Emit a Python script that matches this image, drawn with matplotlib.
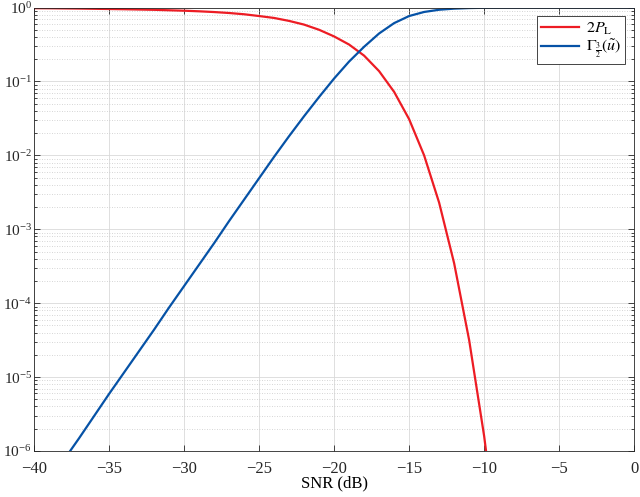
import numpy as np
import matplotlib
matplotlib.use("Agg")
import matplotlib.pyplot as plt
from matplotlib.ticker import LogLocator, MultipleLocator, NullFormatter

plt.rcParams['font.family'] = ['Liberation Serif', 'DejaVu Serif']
plt.rcParams['mathtext.fontset'] = 'stix'

# SNR (dB) grid
snr = [-40, -39, -38, -37, -36, -35, -34, -33, -32, -31, -30, -29, -28, -27,
       -26, -25, -24, -23, -22, -21, -20, -19, -18, -17, -16, -15, -14, -13,
       -12, -11, -10, -9, -8, -7, -6, -5, -4, -3, -2, -1, 0]

# log10 of 2 P_L (red)
log_pl = [-0.008, -0.009, -0.011, -0.013, -0.016, -0.019, -0.022, -0.026, -0.030,
          -0.036, -0.042, -0.050, -0.060, -0.073, -0.090, -0.114, -0.140, -0.180,
          -0.230, -0.300, -0.390, -0.500, -0.650, -0.860, -1.140, -1.510, -2.000,
          -2.640, -3.460, -4.500, -5.800, -7.400, -9.0, -11.0, -13.0, -15.0,
          -17.0, -19.0, -21.0, -23.0, -25.0]

# log10 of Gamma_{3/2}(u~) (blue)
log_gamma = [-6.70, -6.41, -6.12, -5.83, -5.53, -5.23, -4.94, -4.65, -4.36, -4.06,
             -3.77, -3.48, -3.19, -2.89, -2.60, -2.31, -2.02, -1.74, -1.47, -1.21,
             -0.96, -0.73, -0.53, -0.35, -0.21, -0.114, -0.059, -0.029, -0.014,
             -0.006, -0.0025, -0.001, -0.0005, -0.0003, -0.0002, -0.0001, -0.0001,
             -0.0001, 0.0, 0.0, 0.0]

red = '#ed1c24'
blue = '#0652a6'

fig = plt.figure(figsize=(6.4, 4.97), dpi=100)
ax = fig.add_axes([0.053, 0.0926, 0.938, 0.8921])

ax.semilogy(snr, np.power(10.0, log_pl), color=red, lw=1.6, label=r'$2P_{\rm L}$')
ax.semilogy(snr, np.power(10.0, log_gamma), color=blue, lw=1.6,
            label=r'$\Gamma_{\frac{3}{2}}(\tilde{u})$')

ax.set_xlim(-40, 0)
ax.set_ylim(1e-6, 1)
ax.xaxis.set_major_locator(MultipleLocator(5))
ax.yaxis.set_major_locator(LogLocator(base=10, numticks=10))
ax.yaxis.set_minor_locator(LogLocator(base=10, subs=np.arange(2, 10), numticks=10))
ax.yaxis.set_minor_formatter(NullFormatter())

ax.grid(True, which='major', color='#d9d9d9', lw=0.6)
ax.grid(True, which='minor', axis='y', color='#c8c8c8', lw=0.6, linestyle=(0, (1, 2)))
ax.set_axisbelow(True)

for s in ax.spines.values():
    s.set_color('#262626')
    s.set_linewidth(0.6)
ax.tick_params(which='both', direction='in', top=True, right=True,
               colors='#262626', width=0.6)
ax.tick_params(which='major', length=4)
ax.tick_params(which='minor', length=2)
ax.tick_params(axis='x', labelsize=12, pad=7)
ax.tick_params(axis='y', labelsize=11, pad=1.5)

ax.set_xlabel('SNR (dB)', fontsize=12, labelpad=-1)

leg = ax.legend(loc='upper right', fontsize=11.5, handlelength=2.4,
                fancybox=False, framealpha=1, edgecolor='#262626',
                borderpad=0.25, labelspacing=0.1, handletextpad=0.4,
                borderaxespad=0, bbox_to_anchor=(0.985, 0.98))
leg.get_frame().set_linewidth(0.6)

fig.savefig('out.png', dpi=100)
